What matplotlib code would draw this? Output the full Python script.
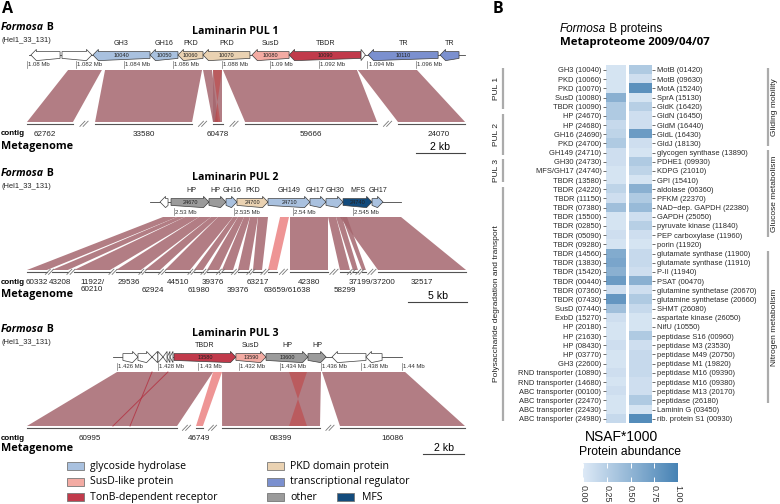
import matplotlib
matplotlib.use("Agg")
import matplotlib.pyplot as plt
import matplotlib.transforms as mtransforms
from matplotlib.patches import Polygon, Rectangle
from matplotlib.colors import LinearSegmentedColormap
import numpy as np

# ====================== DATA ======================
# ---- Panel A: Laminarin PUL 1 (kb on Formosa B genome) ----
pul1_gene_start = [1080.16, 1081.44, 1082.71, 1085.06, 1086.21, 1087.24, 1089.25, 1090.78, 1093.74, 1094.03, 1096.99]
pul1_gene_end = [1081.36, 1082.67, 1085.06, 1086.21, 1087.24, 1089.17, 1090.78, 1093.74, 1093.92, 1096.91, 1097.77]
pul1_gene_strand = [-1, 1, -1, -1, -1, -1, -1, -1, 1, -1, -1]
pul1_gene_class = ['none', 'none', 'GH', 'GH', 'PKD', 'PKD', 'SusD', 'TBDR', 'none', 'TR', 'TR']
pul1_gene_name = ['', '', 'GH3', 'GH16', 'PKD', 'PKD', 'SusD', 'TBDR', '', 'TR', 'TR']
pul1_gene_locus = ['', '', '10040', '10050', '10060', '10070', '10080', '10090', '', '10110', '']
pul1_backbone = [1080.08, 1098.02]
pul1_ticks = [1080, 1082, 1084, 1086, 1088, 1090, 1092, 1094, 1096]
pul1_tick_labels = ['1.08 Mb', '1.082 Mb', '1.084 Mb', '1.086 Mb', '1.088 Mb', '1.09 Mb', '1.092 Mb', '1.094 Mb', '1.096 Mb']
pul1_syn_ref_start = [1081.69, 1083.21, 1087.24, 1087.65, 1088.06, 1093.61]
pul1_syn_ref_end = [1083.08, 1087.20, 1087.61, 1088.02, 1093.57, 1096.04]
pul1_syn_meta_start = [1080.00, 1082.80, 1087.65, 1087.65, 1088.97, 1095.26]
pul1_syn_meta_end = [1081.89, 1086.79, 1087.86, 1088.02, 1094.40, 1098.02]
pul1_syn_kind = ['m', 'm', 'm', 'm', 'm', 'm']
pul1_inv_ref_start = [1087.65]
pul1_inv_ref_end = [1088.02]
pul1_inv_meta_start = [1087.72]
pul1_inv_meta_end = [1087.95]
pul1_inv_kind = ['fill']
pul1_contig_start = [1080.00, 1082.80, 1087.65, 1088.97, 1095.26]
pul1_contig_end = [1081.89, 1086.79, 1088.06, 1094.40, 1098.02]
pul1_contig_name = ['62762', '33580', '60478', '59666', '24070']
pul1_contig_row = [0, 0, 0, 0, 0]
pul1_scale = [1096.0, 1098.0]
pul1_scale_label = '2 kb'

# ---- Panel A: Laminarin PUL 2 ----
pul2_gene_start = [2528.83, 2529.75, 2532.93, 2534.36, 2535.28, 2537.88, 2541.40, 2542.74, 2544.17, 2546.60]
pul2_gene_end = [2529.50, 2532.93, 2534.36, 2535.28, 2537.88, 2541.40, 2542.74, 2544.17, 2546.60, 2547.52]
pul2_gene_strand = [-1, 1, 1, 1, 1, 1, 1, 1, 1, 1]
pul2_gene_class = ['none', 'other', 'other', 'GH', 'PKD', 'GH', 'GH', 'GH', 'MFS', 'GH']
pul2_gene_name = ['', 'HP', 'HP', 'GH16', 'PKD', 'GH149', 'GH17', 'GH30', 'MFS', 'GH17']
pul2_gene_locus = ['', '24670', '', '', '24700', '24710', '', '', '24740', '']
pul2_backbone = [2527.99, 2549.03]
pul2_ticks = [2530, 2535, 2540, 2545]
pul2_tick_labels = ['2.53 Mb', '2.535 Mb', '2.54 Mb', '2.545 Mb']
pul2_syn_ref_start = [2529.08, 2530.25, 2530.92, 2532.10, 2533.10, 2533.69, 2534.95, 2535.36, 2535.87, 2536.37, 2537.04, 2538.89, 2539.72, 2542.91, 2543.58, 2544.08, 2543.91]
pul2_syn_ref_end = [2530.25, 2530.92, 2532.10, 2533.10, 2533.69, 2534.95, 2535.36, 2535.87, 2536.37, 2537.04, 2537.88, 2539.64, 2542.91, 2543.58, 2544.08, 2544.50, 2549.03]
pul2_syn_meta_start = [2517.68, 2519.77, 2521.62, 2525.14, 2527.57, 2529.25, 2531.68, 2532.77, 2534.02, 2535.36, 2536.62, 2537.88, 2539.72, 2543.91, 2545.00, 2545.76, 2547.10]
pul2_syn_meta_end = [2519.35, 2521.11, 2524.64, 2527.23, 2528.83, 2531.34, 2532.43, 2533.78, 2534.95, 2536.28, 2537.38, 2538.63, 2542.91, 2544.75, 2545.42, 2546.09, 2554.48]
pul2_syn_kind = ['m', 'm', 'm', 'm', 'm', 'm', 'm', 'm', 'm', 'm', 'm', 'w', 'm', 'm', 'm', 'm', 'm']
pul2_inv_ref_start = []
pul2_inv_ref_end = []
pul2_inv_meta_start = []
pul2_inv_meta_end = []
pul2_inv_kind = []
pul2_contig_start = pul2_syn_meta_start
pul2_contig_end = pul2_syn_meta_end
pul2_contig_name = ['60332', '43208', '11922/\n60210', '29536', '62924', '44510', '61980', '39376', '39376', '',
                    '63217', '63659/61638', '42380', '58299', '', '37199/37200', '32517']
pul2_contig_row = [0, 0, 0, 0, 1, 0, 1, 0, 1, 0, 0, 1, 0, 1, 0, 0, 0]
pul2_scale = [2549.6, 2554.6]
pul2_scale_label = '5 kb'

# ---- Panel A: Laminarin PUL 3 ----
pul3_gene_start = [1426.29, 1427.03, 1427.72, 1428.01, 1428.26, 1428.46, 1428.60, 1428.80, 1431.84, 1433.32, 1435.38, 1436.56, 1438.23]
pul3_gene_end = [1427.03, 1427.72, 1428.01, 1428.26, 1428.46, 1428.60, 1428.75, 1431.84, 1433.32, 1435.38, 1436.27, 1438.23, 1439.02]
pul3_gene_strand = [1, 1, -1, 1, -1, -1, -1, 1, 1, 1, 1, -1, -1]
pul3_gene_class = ['none'] * 7 + ['TBDR', 'SusD', 'other', 'other', 'none', 'none']
pul3_gene_name = [''] * 7 + ['TBDR', 'SusD', 'HP', 'HP', '', '']
pul3_gene_locus = [''] * 7 + ['13580', '13590', '13600', '', '', '']
pul3_backbone = [1425.80, 1440.00]
pul3_ticks = [1426, 1428, 1430, 1432, 1434, 1436, 1438, 1440]
pul3_tick_labels = ['1.426 Mb', '1.428 Mb', '1.43 Mb', '1.432 Mb', '1.434 Mb', '1.436 Mb', '1.438 Mb', '1.44 Mb']
pul3_syn_ref_start = [1426.00, 1430.72, 1431.16, 1436.07]
pul3_syn_ref_end = [1430.72, 1431.16, 1436.02, 1440.15]
pul3_syn_meta_start = [1421.58, 1429.88, 1431.16, 1436.95]
pul3_syn_meta_end = [1428.95, 1430.22, 1435.97, 1443.09]
pul3_syn_kind = ['m', 'w', 'm', 'm']
pul3_inv_ref_start = [1434.45, 1427.72]
pul3_inv_ref_end = [1435.33, 1428.50]
pul3_inv_meta_start = [1434.45, 1425.80]
pul3_inv_meta_end = [1435.33, 1426.64]
pul3_inv_kind = ['fill', 'line']
pul3_contig_start = pul3_syn_meta_start
pul3_contig_end = pul3_syn_meta_end
pul3_contig_name = ['60995', '46749', '08399', '16086']
pul3_contig_row = [0, 0, 0, 0]
pul3_scale = [1441.05, 1443.05]
pul3_scale_label = '2 kb'

legend_col1 = ['glycoside hydrolase', 'SusD-like protein', 'TonB-dependent receptor']
legend_col1_class = ['GH', 'SusD', 'TBDR']
legend_col2 = ['PKD domain protein', 'transcriptional regulator', 'other']
legend_col2_class = ['PKD', 'TR', 'other']
legend_extra = 'MFS'

# ---- Panel B: metaproteome heatmap (NSAF*1000) ----
left_labels = ['GH3 (10040)', 'PKD (10060)', 'PKD (10070)', 'SusD (10080)', 'TBDR (10090)', 'HP (24670)', 'HP (24680)',
               'GH16 (24690)', 'PKD (24700)', 'GH149 (24710)', 'GH30 (24730)', 'MFS/GH17 (24740)', 'TBDR (13580)',
               'TBDR (24220)', 'TBDR (11150)', 'TBDR (07380)', 'TBDR (15500)', 'TBDR (02850)', 'TBDR (05090)',
               'TBDR (09280)', 'TBDR (14560)', 'TBDR (13830)', 'TBDR (15420)', 'TBDR (00440)', 'TBDR (07360)',
               'TBDR (07430)', 'SusD (07440)', 'ExbD (15270)', 'HP (20180)', 'HP (21630)', 'HP (08430)', 'HP (03770)',
               'GH3 (22600)', 'RND transporter (10890)', 'RND transporter (14680)', 'ABC transporter (00100)',
               'ABC transporter (22470)', 'ABC transporter (22430)', 'ABC transporter (24980)']
left_values = [0.05, 0.05, 0.05, 0.55, 0.30, 0.30, 0.15, 0.20, 0.30, 0.10, 0.10, 0.05, 0.05,
               0.20, 0.10, 0.40, 0.05, 0.05, 0.10, 0.05, 0.60, 0.65, 0.55, 0.75, 0.10, 0.80,
               0.40, 0.10, 0.05, 0.05, 0.10, 0.05, 0.05, 0.10, 0.05, 0.10, 0.05, 0.05, 0.15]
right_labels = ['MotB (01420)', 'MotB (09630)', 'MotA (15240)', 'SprA (15130)', 'GldK (16420)', 'GldN (16450)',
                'GldM (16440)', 'GldL (16430)', 'GldJ (18130)', 'glycogen synthase (13890)', 'PDHE1 (09930)',
                'KDPG (21010)', 'GPI (15410)', 'aldolase (06360)', 'PFKM (22370)', 'NAD\u2212dep. GAPDH (22380)',
                'GAPDH (25050)', 'pyruvate kinase (11840)', 'PEP carboxylase (11960)', 'porin (11920)',
                'glutamate synthase (11900)', 'glutamate synthase (11910)', 'P-II (11940)', 'PSAT (00470)',
                'glutamine synthetase (20670)', 'glutamine synthetase (20660)', 'SHMT (26080)',
                'aspartate kinase (26050)', 'NifU (10550)', 'peptidase S16 (00960)', 'peptidase M3 (23530)',
                'peptidase M49 (20750)', 'peptidase M1 (19820)', 'peptidase M16 (09390)', 'peptidase M16 (09380)',
                'peptidase M13 (20170)', 'peptidase (26180)', 'Laminin G (03450)', 'rib. protein S1 (00930)']
right_values = [0.30, 0.10, 0.85, 0.05, 0.25, 0.10, 0.10, 0.75, 0.10, 0.05, 0.30, 0.20, 0.05,
                0.55, 0.30, 0.45, 0.10, 0.25, 0.10, 0.05, 0.15, 0.15, 0.10, 0.55, 0.10, 0.30,
                0.15, 0.05, 0.05, 0.30, 0.10, 0.15, 0.15, 0.15, 0.10, 0.10, 0.30, 0.05, 0.90]
left_groups = ['PUL 1', 'PUL 2', 'PUL 3', 'Polysaccharide degradation and transport']
left_group_first = [0, 5, 10, 13]
left_group_last = [4, 9, 12, 38]
right_groups = ['Gliding mobility', 'Glucose metabolism', 'Nitrogen metabolism']
right_group_first = [0, 9, 20]
right_group_last = [8, 18, 36]
cbar_ticks = [0.0, 0.25, 0.5, 0.75, 1.0]
cbar_tick_labels = ['0.00', '0.25', '0.50', '0.75', '1.00']

# ====================== STYLE / LAYOUT ======================
W, H = 780, 504
CLASS_COLORS = {'GH': '#a9c1df', 'SusD': '#f3aba3', 'TBDR': '#c13a4b', 'PKD': '#ead2b2',
                'TR': '#7b90cf', 'other': '#9b9b9b', 'MFS': '#134b7c', 'none': '#ffffff'}
SYN_COLOR = '#a5666e'
WEAK_COLOR = '#eb8383'
INV_COLOR = '#c23a3a'
FA = 'Open Sans'
FB = 'Liberation Sans'

fig = plt.figure(figsize=(W / 100, H / 100), dpi=100)


def box(x0, y0, x1, y1):
    return [x0 / W, 1 - y1 / H, (x1 - x0) / W, (y1 - y0) / H]


ov = fig.add_axes([0, 0, 1, 1])
ov.set_xlim(0, W)
ov.set_ylim(H, 0)
ov.axis('off')


def two_part(x, y, a, b, fam, size, weight, style_a='italic', color='black'):
    t = ov.text(x, y, a, family=fam, fontsize=size, weight=weight, style=style_a, va='center', ha='left', color=color)
    ov.annotate(b, xy=(1, 0.5), xycoords=t, va='center', ha='left', family=fam, fontsize=size,
                weight=weight, color=color)


def draw_pul(layout, genes, backbone, ticks, tick_labels, syn, inv, contigs, scale, scale_label, title):
    kb0, px0, ppk = layout['anchor']
    ax = fig.add_axes(box(0, 0, 510, H))
    ax.set_xlim(kb0 - px0 / ppk, kb0 + (510 - px0) / ppk)
    ax.set_ylim(H, 0)
    ax.axis('off')
    px = 1.0 / ppk
    yg, yt, yb = layout['gene_y'], layout['syn_top'], layout['syn_bot']
    ax.plot(backbone, [yg, yg], color='#444444', lw=0.6, zorder=1)
    gs, ge, gst, gcl, gnm, glc = genes
    hb, hh = 3.4, 5.6
    for i, (s, e, st, c, nm, lc) in enumerate(zip(gs, ge, gst, gcl, gnm, glc)):
        hl = min(5.5 * px, e - s)
        if st > 0:
            xs = [s, e - hl, e - hl, e, e - hl, e - hl, s]
        else:
            xs = [e, s + hl, s + hl, s, s + hl, s + hl, e]
        ys = [yg - hb, yg - hb, yg - hh, yg, yg + hh, yg + hh, yg + hb]
        ax.add_patch(Polygon(np.column_stack([xs, ys]), closed=True, facecolor=CLASS_COLORS[c],
                             edgecolor='#3c3c3c', lw=0.5, zorder=3))
        if nm:
            dx = layout.get('name_nudge', {}).get(i, 0) * px
            ax.text((s + e) / 2 + dx, yg - 11.5, nm, ha='center', va='center', family=FB, fontsize=5.1,
                    color='#222222')
        if lc:
            ax.text((s + e) / 2, yg + 0.3, lc, ha='center', va='center', family=FB, fontsize=4.0,
                    color='#222222', zorder=4)
    for t, lab in zip(ticks, tick_labels):
        ax.plot([t, t], [yg + 6, yg + 13], color='#777777', lw=0.5)
        ax.text(t + 1.2 * px, yg + 10, lab, ha='left', va='center', family=FB, fontsize=4.3, color='#333333')
    rs, re_, ms, me, kind = syn
    for a, b, c, d, k in zip(rs, re_, ms, me, kind):
        col = SYN_COLOR if k == 'm' else WEAK_COLOR
        ax.add_patch(Polygon([[a, yt], [b, yt], [d, yb], [c, yb]], closed=True, facecolor=col,
                             edgecolor='none', alpha=0.85, zorder=2))
    irs, ire, ims, ime, ik = inv
    for a, b, c, d, k in zip(irs, ire, ims, ime, ik):
        if k == 'fill':
            ax.add_patch(Polygon([[a, yt], [b, yt], [c, yb], [d, yb]], closed=True, facecolor=INV_COLOR,
                                 edgecolor='none', alpha=0.5, zorder=2.5))
        else:
            ax.plot([a, d], [yt, yb], color='#b23040', lw=0.7, alpha=0.8, zorder=2.5)
            ax.plot([b, c], [yt, yb], color='#b23040', lw=0.7, alpha=0.8, zorder=2.5)
    cs, ce, cn, cr = contigs
    yl = yb + 1.8
    for i, (s, e, n, r) in enumerate(zip(cs, ce, cn, cr)):
        ax.plot([s, e], [yl, yl], color='#555555', lw=0.8)
        if n:
            dx = layout['nudge'].get(i, 0) * px
            ax.text((s + e) / 2 + dx, layout['lab_y'][r], n, ha='center', va='top', family=FB, fontsize=5.8,
                    color='#222222', linespacing=0.95)
        if i + 1 < len(cs):
            m = (e + cs[i + 1]) / 2
            for off in (-1.6, 1.6):
                ax.plot([m + (off - 2.5) * px, m + (off + 2.5) * px], [yl + 2.6, yl - 2.6],
                        color='#777777', lw=0.6)
    ax.plot(scale, [layout['scale_y'] + 6, layout['scale_y'] + 6], color='#444444', lw=0.8)
    ax.text(np.mean(scale), layout['scale_y'], scale_label, ha='center', va='center', family=FB, fontsize=7.6)
    ov.text(235, layout['title_y'], title, ha='center', va='center', family=FA, fontsize=7.6, weight='bold')
    two_part(1, layout['title_y'] - 4, 'Formosa', ' B', FA, 7.6, 'bold')
    ov.text(1, layout['title_y'] + 9, '(Hel1_33_131)', ha='left', va='center', family=FB, fontsize=5.4,
            color='#222222')
    ov.text(1, layout['lab_y'][0] + 2.5, 'contig', ha='left', va='center', family=FB, fontsize=5.8, weight='bold')
    ov.text(1, layout['meta_y'], 'Metagenome', ha='left', va='center', family=FA, fontsize=7.8, weight='bold')


draw_pul(dict(anchor=(1080, 27, 24.3125), gene_y=55, syn_top=70, syn_bot=122, lab_y=[131, 139],
              nudge={0: -5, 4: 7}, scale_y=147, title_y=31, meta_y=147),
         (pul1_gene_start, pul1_gene_end, pul1_gene_strand, pul1_gene_class, pul1_gene_name, pul1_gene_locus),
         pul1_backbone, pul1_ticks, pul1_tick_labels,
         (pul1_syn_ref_start, pul1_syn_ref_end, pul1_syn_meta_start, pul1_syn_meta_end, pul1_syn_kind),
         (pul1_inv_ref_start, pul1_inv_ref_end, pul1_inv_meta_start, pul1_inv_meta_end, pul1_inv_kind),
         (pul1_contig_start, pul1_contig_end, pul1_contig_name, pul1_contig_row),
         pul1_scale, pul1_scale_label, 'Laminarin PUL 1')

draw_pul(dict(anchor=(2530, 174, 11.93), gene_y=202, syn_top=217, syn_bot=270, lab_y=[279.5, 287.5],
              nudge={8: 10, 11: 15, 15: 8}, name_nudge={1: 1, 2: -2.5, 3: 1, 6: -3, 7: 0.5},
              scale_y=296, title_y=177, meta_y=295),
         (pul2_gene_start, pul2_gene_end, pul2_gene_strand, pul2_gene_class, pul2_gene_name, pul2_gene_locus),
         pul2_backbone, pul2_ticks, pul2_tick_labels,
         (pul2_syn_ref_start, pul2_syn_ref_end, pul2_syn_meta_start, pul2_syn_meta_end, pul2_syn_kind),
         (pul2_inv_ref_start, pul2_inv_ref_end, pul2_inv_meta_start, pul2_inv_meta_end, pul2_inv_kind),
         (pul2_contig_start, pul2_contig_end, pul2_contig_name, pul2_contig_row),
         pul2_scale, pul2_scale_label, 'Laminarin PUL 2')

draw_pul(dict(anchor=(1426, 117, 20.36), gene_y=357, syn_top=372, syn_bot=426, lab_y=[435.5, 443.5],
              nudge={0: -12, 2: 10, 3: -10}, scale_y=448, title_y=333, meta_y=449),
         (pul3_gene_start, pul3_gene_end, pul3_gene_strand, pul3_gene_class, pul3_gene_name, pul3_gene_locus),
         pul3_backbone, pul3_ticks, pul3_tick_labels,
         (pul3_syn_ref_start, pul3_syn_ref_end, pul3_syn_meta_start, pul3_syn_meta_end, pul3_syn_kind),
         (pul3_inv_ref_start, pul3_inv_ref_end, pul3_inv_meta_start, pul3_inv_meta_end, pul3_inv_kind),
         (pul3_contig_start, pul3_contig_end, pul3_contig_name, pul3_contig_row),
         pul3_scale, pul3_scale_label, 'Laminarin PUL 3')

for i, (lab, c) in enumerate(zip(legend_col1, legend_col1_class)):
    y = 466 + i * 15.7
    ov.add_patch(Rectangle((67, y - 4), 17, 8, facecolor=CLASS_COLORS[c], edgecolor='#777777', lw=0.6))
    ov.text(90, y, lab, ha='left', va='center', family=FA, fontsize=7.6)
for i, (lab, c) in enumerate(zip(legend_col2, legend_col2_class)):
    y = 466 + i * 15.7
    ov.add_patch(Rectangle((267, y - 4), 17, 8, facecolor=CLASS_COLORS[c], edgecolor='#777777', lw=0.6))
    ov.text(290, y, lab, ha='left', va='center', family=FA, fontsize=7.6)
ov.add_patch(Rectangle((337, 497.4 - 4), 17, 8, facecolor=CLASS_COLORS['MFS'], edgecolor='#777777', lw=0.6))
ov.text(362, 497.4, legend_extra, ha='left', va='center', family=FA, fontsize=7.6)

ov.text(2, 9, 'A', ha='left', va='center', family=FA, fontsize=11.5, weight='bold')
ov.text(493, 9, 'B', ha='left', va='center', family=FA, fontsize=11.5, weight='bold')

# ---------------- Panel B ----------------
cmap = LinearSegmentedColormap.from_list('nsaf', ['#dde9f6', '#4682b4'])
n = len(left_labels)
axL = fig.add_axes(box(606, 65.4, 626, 423.3))
axR = fig.add_axes(box(629, 65.4, 652, 423.3))
for ax, vals, labs in ((axL, left_values, left_labels), (axR, right_values, right_labels)):
    ax.imshow(np.array(vals)[:, None], cmap=cmap, vmin=0, vmax=1, aspect='auto', interpolation='nearest')
    ax.set_xticks([])
    ax.set_yticks(np.arange(n))
    ax.set_yticklabels(labs, family=FB, fontsize=5.4, color='#2a2a2a')
    ax.tick_params(axis='y', length=2.5, width=0.6, color='#555555', pad=0.8)
    for s in ax.spines.values():
        s.set_visible(False)
axR.yaxis.tick_right()
axR.tick_params(axis='y', length=2.5, width=0.6, color='#555555', pad=0.8)

tl = mtransforms.blended_transform_factory(ov.transData, axL.transData)
for g, a, b in zip(left_groups, left_group_first, left_group_last):
    ov.plot([503, 503], [a - 0.5 + 0.25, b + 0.5 - 0.25], transform=tl, color='#ababab', lw=1.6,
            solid_capstyle='butt', clip_on=False)
    ov.text(496, (a + b) / 2, g, transform=tl, rotation=90, ha='center', va='center', family=FB,
            fontsize=6.0, color='#222222')
tr = mtransforms.blended_transform_factory(ov.transData, axR.transData)
for g, a, b in zip(right_groups, right_group_first, right_group_last):
    ov.plot([768, 768], [a - 0.5 + 0.25, b + 0.5 - 0.25], transform=tr, color='#ababab', lw=1.6,
            solid_capstyle='butt', clip_on=False)
    ov.text(775, (a + b) / 2, g, transform=tr, rotation=90, ha='center', va='center', family=FB,
            fontsize=6.0, color='#222222')

two_part(560, 29, 'Formosa', ' B proteins', FB, 8.5, 'normal')
ov.text(560, 43, 'Metaproteome 2009/04/07', ha='left', va='center', family=FA, fontsize=8.2, weight='bold')
ov.text(621, 437, 'NSAF*1000', ha='center', va='center', family=FB, fontsize=10)
ov.text(630, 452, 'Protein abundance', ha='center', va='center', family=FB, fontsize=8.7)

cax = fig.add_axes(box(583, 463, 678, 482))
sm = plt.cm.ScalarMappable(cmap=cmap, norm=plt.Normalize(0, 1))
cb = fig.colorbar(sm, cax=cax, orientation='horizontal', ticks=cbar_ticks)
cb.outline.set_visible(False)
cax.set_xticklabels(cbar_tick_labels, rotation=270, family=FB, fontsize=6.5, color='#333333')
cax.tick_params(axis='x', direction='in', length=3.5, width=0.7, color='white', pad=2, top=True)

fig.savefig('out.png', dpi=100)
